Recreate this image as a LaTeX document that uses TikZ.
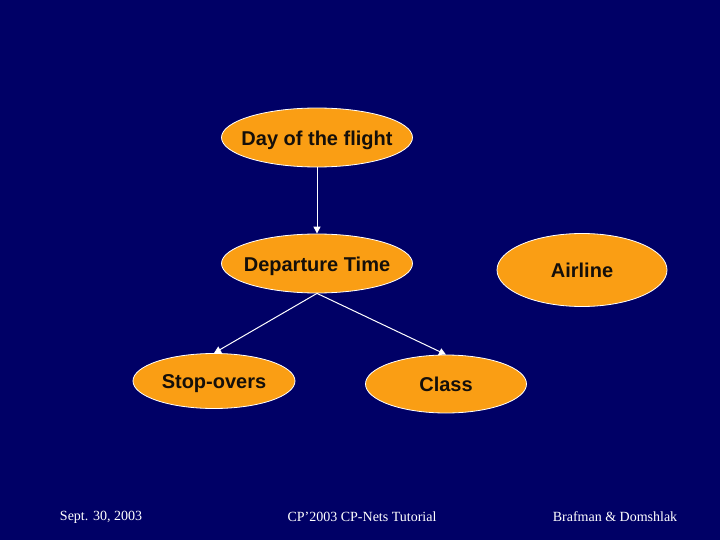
\documentclass[tikz,border=0pt]{standalone}
\usepackage{fontspec}
\setmainfont{Liberation Serif}
\newfontfamily\arialfont{Liberation Sans}
\usetikzlibrary{shapes.geometric,arrows.meta}
\definecolor{slidebg}{RGB}{0,0,102}
\definecolor{nodeorange}{RGB}{250,158,20}
\definecolor{nodetext}{RGB}{20,15,10}
\tikzset{
  varnode/.style={ellipse, draw=white, line width=0.8pt, fill=nodeorange,
    inner xsep=-15pt, inner ysep=0pt, text height=17pt, text depth=1.5pt,
    font=\arialfont\bfseries\fontsize{20}{24}\selectfont, text=nodetext},
  dep/.style={draw=white, line width=1pt, -{Triangle[width=7pt,length=7pt]}},
  foot/.style={text=white, font=\fontsize{14}{16}\selectfont, inner sep=0pt}
}
\begin{document}
\begin{tikzpicture}[x=1pt,y=-1pt]
\fill[slidebg] (0,0) rectangle (720,540);
\useasboundingbox (0,0) rectangle (720,540);
\node[varnode, minimum width=191pt, minimum height=59pt] (day) at (317,137.5) {Day of the flight};
\node[varnode, minimum width=191pt, minimum height=59pt] (deptime) at (317,263.5) {Departure Time};
\node[varnode, minimum width=170pt, minimum height=73pt] (airline) at (582,270) {Airline};
\node[varnode, minimum width=162pt, minimum height=55pt] (stop) at (214,381) {Stop-overs};
\node[varnode, minimum width=161pt, minimum height=58pt] (class) at (446,384) {Class};
\draw[dep] (day.south) -- (deptime.north);
\draw[dep] (deptime.south) -- (stop.north);
\draw[dep] (deptime.south) -- (class.north);
\node[foot] (date) at (101,517) {Sept. 30, 2003};
\node[foot] (title) at (362,517) {CP'2003 CP-Nets Tutorial};
\node[foot] (authors) at (615,517) {Brafman \& Domshlak};
\end{tikzpicture}
\end{document}
